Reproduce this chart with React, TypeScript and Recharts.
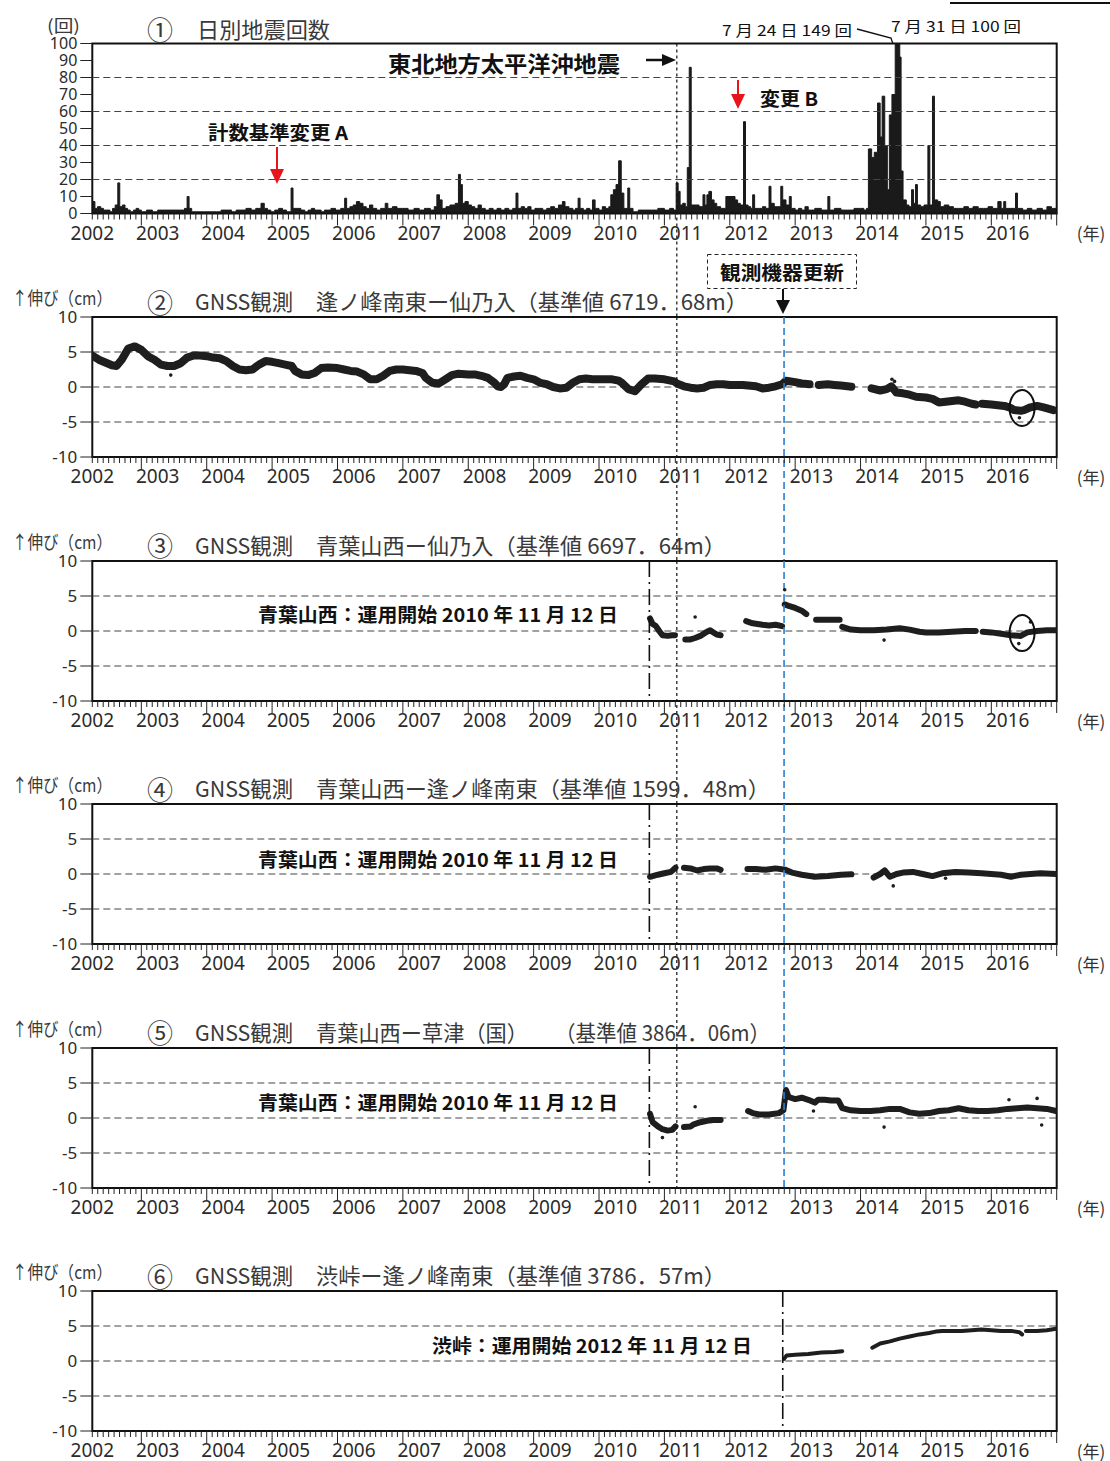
import React from 'react';
import {
  ComposedChart, Area, Line, Scatter, XAxis, YAxis,
  ReferenceLine, ReferenceArea, ReferenceDot,
} from 'recharts';

const FONT = '"Noto Sans CJK JP", "Noto Sans", sans-serif';
const NUM_FONT = '"Noto Sans", "Liberation Sans", sans-serif';

// axis
const yearLabels = ['2002', '2003', '2004', '2005', '2006', '2007', '2008', '2009',
  '2010', '2011', '2012', '2013', '2014', '2015', '2016'];
const X_START = 2002.25; // April 2002
const X_END = 2017;
const quakeTicks = [0, 10, 20, 30, 40, 50, 60, 70, 80, 90, 100];
const quakeGrid = [20, 40, 60, 80];
const gnssTicks = [-10, -5, 0, 5, 10];
const gnssGrid = [-5, 0, 5];

// events
const QUAKE_DATE = 2011.19; // 2011-03-11
const EQUIP_DATE = 2012.83; // 観測機器更新
const AOBA_START = 2010.77; // 青葉山西 運用開始
const SHIBU_START = 2012.81; // 渋峠 運用開始

// ① daily earthquake counts [year, count]
const quakeCounts: [number, number][] = [
  [2002.25, 7], [2002.29, 3], [2002.33, 4], [2002.38, 3], [2002.42, 2], [2002.47, 2], [2002.52, 1],
  [2002.56, 3], [2002.6, 5], [2002.64, 18], [2002.67, 4], [2002.71, 5], [2002.75, 3], [2002.79, 2],
  [2002.83, 1], [2002.88, 2], [2002.92, 3], [2002.96, 2], [2003.0, 1], [2003.08, 2], [2003.17, 1],
  [2003.25, 2], [2003.33, 2], [2003.42, 2], [2003.5, 2], [2003.58, 2], [2003.66, 3], [2003.7, 10],
  [2003.73, 3], [2003.77, 1], [2003.85, 1], [2003.95, 1], [2004.05, 1], [2004.15, 1], [2004.22, 2],
  [2004.3, 2], [2004.38, 1], [2004.45, 2], [2004.52, 2], [2004.6, 3], [2004.68, 2], [2004.75, 3],
  [2004.83, 6], [2004.88, 3], [2004.93, 2], [2004.98, 1], [2005.04, 2], [2005.1, 3], [2005.16, 2],
  [2005.22, 1], [2005.29, 15], [2005.32, 3], [2005.38, 3], [2005.44, 2], [2005.5, 1], [2005.55, 2],
  [2005.6, 3], [2005.65, 2], [2005.7, 2], [2005.75, 1], [2005.8, 2], [2005.85, 2], [2005.9, 3],
  [2005.97, 2], [2006.05, 3], [2006.11, 9], [2006.14, 3], [2006.19, 4], [2006.24, 5], [2006.29, 7],
  [2006.34, 6], [2006.39, 4], [2006.44, 3], [2006.49, 5], [2006.54, 3], [2006.6, 2], [2006.66, 3],
  [2006.73, 6], [2006.77, 3], [2006.84, 4], [2006.91, 3], [2007.0, 3], [2007.08, 2], [2007.17, 3],
  [2007.25, 2], [2007.33, 3], [2007.42, 2], [2007.48, 4], [2007.52, 11], [2007.56, 8], [2007.6, 3],
  [2007.66, 4], [2007.72, 5], [2007.8, 6], [2007.85, 23], [2007.88, 17], [2007.91, 6], [2007.95, 7],
  [2008.0, 5], [2008.05, 4], [2008.1, 3], [2008.15, 5], [2008.2, 3], [2008.26, 2], [2008.32, 3],
  [2008.38, 2], [2008.44, 3], [2008.5, 2], [2008.56, 3], [2008.62, 2], [2008.68, 3], [2008.73, 12],
  [2008.76, 3], [2008.81, 4], [2008.86, 3], [2008.91, 4], [2008.96, 2], [2009.02, 3], [2009.08, 3],
  [2009.14, 2], [2009.2, 3], [2009.26, 4], [2009.32, 3], [2009.38, 5], [2009.44, 7], [2009.48, 4],
  [2009.54, 3], [2009.6, 2], [2009.64, 3], [2009.68, 9], [2009.71, 3], [2009.76, 2], [2009.81, 3],
  [2009.86, 2], [2009.9, 8], [2009.94, 3], [2010.0, 2], [2010.05, 4], [2010.1, 3], [2010.15, 4],
  [2010.18, 11], [2010.22, 14], [2010.26, 17], [2010.3, 31], [2010.34, 12], [2010.38, 3], [2010.44, 15],
  [2010.47, 3], [2010.52, 1], [2010.6, 2], [2010.7, 2], [2010.8, 2], [2010.9, 3], [2011.0, 2],
  [2011.08, 3], [2011.14, 2], [2011.18, 18], [2011.21, 13], [2011.24, 5], [2011.28, 6], [2011.32, 4],
  [2011.35, 27], [2011.38, 86], [2011.41, 5], [2011.47, 5], [2011.53, 4], [2011.59, 11], [2011.62, 5],
  [2011.65, 11], [2011.68, 13], [2011.72, 8], [2011.76, 6], [2011.8, 4], [2011.86, 3], [2011.94, 10],
  [2012.02, 10], [2012.08, 8], [2012.12, 6], [2012.16, 5], [2012.21, 54], [2012.24, 5], [2012.28, 4],
  [2012.32, 3], [2012.35, 11], [2012.38, 3], [2012.45, 3], [2012.5, 4], [2012.55, 3], [2012.6, 16],
  [2012.63, 6], [2012.68, 4], [2012.73, 4], [2012.78, 16], [2012.81, 8], [2012.86, 5], [2012.91, 10],
  [2012.94, 3], [2013.0, 2], [2013.05, 3], [2013.1, 2], [2013.15, 4], [2013.2, 2], [2013.3, 3],
  [2013.4, 2], [2013.5, 10], [2013.53, 2], [2013.6, 3], [2013.7, 2], [2013.8, 2], [2013.9, 3],
  [2014.0, 3], [2014.05, 2], [2014.09, 3], [2014.12, 38], [2014.17, 33], [2014.21, 36], [2014.26, 65],
  [2014.3, 45], [2014.33, 69], [2014.37, 40], [2014.41, 14], [2014.44, 58], [2014.48, 70],
  [2014.53, 149], [2014.58, 100], [2014.6, 92], [2014.62, 25], [2014.65, 8], [2014.7, 5], [2014.74, 4],
  [2014.78, 14], [2014.81, 6], [2014.84, 17], [2014.87, 5], [2014.92, 4], [2014.97, 5], [2015.03, 40],
  [2015.06, 5], [2015.1, 69], [2015.13, 8], [2015.18, 7], [2015.22, 4], [2015.28, 5], [2015.35, 4],
  [2015.42, 3], [2015.5, 3], [2015.58, 4], [2015.65, 3], [2015.72, 4], [2015.8, 3], [2015.88, 3],
  [2015.95, 4], [2016.02, 3], [2016.1, 7], [2016.15, 3], [2016.19, 7], [2016.22, 3], [2016.3, 3],
  [2016.37, 12], [2016.4, 3], [2016.48, 2], [2016.55, 3], [2016.62, 2], [2016.7, 3], [2016.78, 2],
  [2016.85, 4], [2016.92, 3], [2017.0, 3],
];

// ② 逢ノ峰南東－仙乃入 (cm)
const p2Values: [number, number | null][] = [
  [2002.25, 4.5], [2002.35, 3.9], [2002.45, 3.5], [2002.55, 3.1], [2002.62, 3.0], [2002.7, 3.9],
  [2002.8, 5.5], [2002.9, 5.8], [2003.0, 5.3], [2003.1, 4.4], [2003.2, 3.9], [2003.3, 3.2],
  [2003.4, 3.0], [2003.5, 3.0], [2003.6, 3.4], [2003.7, 4.2], [2003.8, 4.5], [2003.9, 4.5],
  [2004.0, 4.4], [2004.1, 4.2], [2004.2, 4.1], [2004.3, 3.7], [2004.4, 3.0], [2004.5, 2.5],
  [2004.6, 2.4], [2004.7, 2.5], [2004.8, 3.2], [2004.9, 3.7], [2005.0, 3.6], [2005.1, 3.4],
  [2005.2, 3.2], [2005.3, 3.0], [2005.35, 2.3], [2005.45, 1.8], [2005.55, 1.7], [2005.65, 2.0],
  [2005.75, 2.7], [2005.85, 2.8], [2006.0, 2.7], [2006.1, 2.5], [2006.2, 2.3], [2006.3, 2.2],
  [2006.4, 1.8], [2006.5, 1.1], [2006.6, 1.1], [2006.7, 1.6], [2006.8, 2.3], [2006.9, 2.5],
  [2007.0, 2.5], [2007.1, 2.4], [2007.2, 2.3], [2007.3, 2.0], [2007.35, 1.3], [2007.45, 0.6],
  [2007.55, 0.5], [2007.65, 1.1], [2007.75, 1.7], [2007.85, 1.9], [2008.0, 1.8], [2008.1, 1.8],
  [2008.2, 1.6], [2008.3, 1.3], [2008.4, 0.6], [2008.45, 0.1], [2008.5, 0.0], [2008.55, 0.4],
  [2008.6, 1.3], [2008.7, 1.5], [2008.8, 1.6], [2008.9, 1.3], [2009.0, 1.1], [2009.1, 0.6],
  [2009.2, 0.4], [2009.3, 0.0], [2009.4, -0.2], [2009.5, -0.1], [2009.6, 0.6], [2009.7, 1.1],
  [2009.8, 1.2], [2009.9, 1.1], [2010.0, 1.1], [2010.1, 1.1], [2010.2, 1.1], [2010.3, 0.9],
  [2010.35, 0.6], [2010.45, -0.3], [2010.55, -0.6], [2010.65, 0.4], [2010.75, 1.2], [2010.85, 1.2],
  [2011.0, 1.1], [2011.15, 0.8], [2011.19, 0.5], [2011.3, 0.1], [2011.4, -0.1], [2011.5, -0.2],
  [2011.6, -0.1], [2011.7, 0.3], [2011.8, 0.4], [2011.9, 0.4], [2012.0, 0.3], [2012.2, 0.3],
  [2012.4, 0.1], [2012.5, -0.2], [2012.6, -0.1], [2012.7, 0.1], [2012.8, 0.4], [2012.86, 0.9],
  [2013.0, 0.7], [2013.1, 0.5], [2013.22, 0.4], [2013.28, null], [2013.36, 0.3], [2013.5, 0.4],
  [2013.6, 0.3], [2013.7, 0.2], [2013.8, 0.1], [2013.86, 0.05], [2014.0, null], [2014.17, -0.2],
  [2014.3, -0.5], [2014.4, -0.3], [2014.47, 0.1], [2014.55, -0.8], [2014.65, -0.9], [2014.75, -1.1],
  [2014.85, -1.4], [2015.0, -1.5], [2015.1, -1.7], [2015.2, -2.2], [2015.3, -2.1], [2015.4, -2.0],
  [2015.5, -1.9], [2015.6, -2.1], [2015.7, -2.4], [2015.76, -2.5], [2015.8, null], [2015.86, -2.4],
  [2016.0, -2.5], [2016.1, -2.6], [2016.2, -2.7], [2016.3, -3.0], [2016.35, -3.3], [2016.45, -3.4],
  [2016.5, -3.3], [2016.6, -2.9], [2016.7, -2.7], [2016.8, -2.9], [2016.95, -3.3],
];
const p2Outliers: [number, number][] = [[2003.45, 1.7], [2014.48, 1.1], [2014.52, 0.8], [2016.43, -4.4]];

// ③ 青葉山西－仙乃入
const p3Values: [number, number | null][] = [
  [2010.78, 1.8], [2010.82, 1.0], [2010.87, 0.7], [2010.92, 0.0], [2010.97, -0.6], [2011.05, -0.7],
  [2011.12, -0.6], [2011.16, -0.6], [2011.24, null], [2011.32, -1.2], [2011.4, -1.2], [2011.47, -1.0],
  [2011.55, -0.7], [2011.65, -0.1], [2011.7, 0.1], [2011.75, -0.2], [2011.8, -0.5], [2011.86, -0.6],
  [2012.0, null], [2012.25, 1.4], [2012.35, 1.1], [2012.5, 0.9], [2012.6, 0.8], [2012.7, 0.9],
  [2012.8, 0.7], [2012.82, null], [2012.84, 3.8], [2012.9, 3.6], [2013.0, 3.3], [2013.1, 2.9],
  [2013.17, 2.4], [2013.24, null], [2013.32, 1.6], [2013.5, 1.6], [2013.6, 1.6], [2013.68, 1.6],
  [2013.7, null], [2013.72, 0.6], [2013.85, 0.2], [2014.0, 0.1], [2014.2, 0.1], [2014.4, 0.2],
  [2014.6, 0.4], [2014.75, 0.2], [2014.9, -0.1], [2015.0, -0.2], [2015.2, -0.2], [2015.4, -0.1],
  [2015.6, 0.0], [2015.76, 0.0], [2015.8, null], [2015.87, -0.1], [2016.0, -0.2], [2016.15, -0.4],
  [2016.3, -0.6], [2016.45, -0.7], [2016.55, -0.2], [2016.7, 0.0], [2016.85, 0.1], [2016.99, 0.1],
];
const p3Outliers: [number, number][] = [[2011.47, 2.0], [2012.84, 5.9], [2014.36, -1.3], [2016.6, 1.3], [2016.42, -1.8]];

// ④ 青葉山西－逢ノ峰南東
const p4Values: [number, number | null][] = [
  [2010.78, -0.4], [2010.9, -0.1], [2011.0, 0.1], [2011.1, 0.3], [2011.17, 0.9], [2011.24, null],
  [2011.3, 0.9], [2011.4, 0.8], [2011.5, 0.5], [2011.6, 0.7], [2011.7, 0.8], [2011.8, 0.8],
  [2011.86, 0.6], [2012.0, null], [2012.27, 0.7], [2012.4, 0.7], [2012.55, 0.6], [2012.7, 0.8],
  [2012.85, 0.6], [2012.95, 0.2], [2013.1, -0.1], [2013.3, -0.4], [2013.5, -0.3], [2013.7, -0.1],
  [2013.86, -0.05], [2014.0, null], [2014.2, -0.5], [2014.3, 0.0], [2014.37, 0.5], [2014.45, -0.4],
  [2014.55, 0.0], [2014.65, 0.2], [2014.8, 0.3], [2014.95, 0.0], [2015.1, -0.3], [2015.25, 0.1],
  [2015.45, 0.3], [2015.65, 0.2], [2015.85, 0.1], [2016.0, 0.0], [2016.15, -0.1], [2016.3, -0.4],
  [2016.45, -0.1], [2016.6, 0.0], [2016.75, 0.1], [2016.99, 0.0],
];
const p4Outliers: [number, number][] = [[2014.5, -1.7], [2015.3, -0.6]];

// ⑤ 青葉山西－草津（国）
const p5Values: [number, number | null][] = [
  [2010.78, 0.6], [2010.82, -0.6], [2010.9, -1.2], [2010.97, -1.6], [2011.05, -1.8], [2011.12, -1.7],
  [2011.17, -1.2], [2011.24, null], [2011.3, -1.3], [2011.4, -1.2], [2011.45, -0.9], [2011.55, -0.6],
  [2011.65, -0.4], [2011.75, -0.3], [2011.86, -0.3], [2012.0, null], [2012.28, 1.0], [2012.35, 0.7],
  [2012.45, 0.5], [2012.6, 0.5], [2012.75, 0.7], [2012.82, 1.1], [2012.86, 4.0], [2012.9, 3.0],
  [2013.0, 2.7], [2013.1, 2.9], [2013.2, 2.6], [2013.3, 2.2], [2013.35, 2.6], [2013.45, 2.6],
  [2013.55, 2.5], [2013.66, 2.5], [2013.72, 1.4], [2013.85, 1.1], [2014.0, 1.0], [2014.15, 1.0],
  [2014.3, 1.1], [2014.45, 1.3], [2014.6, 1.3], [2014.75, 0.8], [2014.9, 0.6], [2015.05, 0.7],
  [2015.2, 1.0], [2015.35, 1.1], [2015.5, 1.4], [2015.65, 1.1], [2015.8, 1.0], [2015.95, 1.0],
  [2016.1, 1.1], [2016.25, 1.3], [2016.4, 1.4], [2016.55, 1.5], [2016.7, 1.4], [2016.85, 1.3],
  [2016.99, 1.0],
];
const p5Outliers: [number, number][] = [[2011.47, 1.6], [2010.97, -2.8], [2014.36, -1.3], [2016.27, 2.6], [2016.7, 2.8], [2016.77, -1.0], [2013.28, 1.0]];

// ⑥ 渋峠－逢ノ峰南東
const p6Values: [number, number | null][] = [
  [2012.83, 0.3], [2012.87, 0.8], [2013.0, 0.9], [2013.2, 1.0], [2013.4, 1.2], [2013.6, 1.3],
  [2013.72, 1.4], [2013.9, null], [2014.18, 1.9], [2014.3, 2.5], [2014.45, 2.8], [2014.6, 3.2],
  [2014.75, 3.5], [2014.9, 3.8], [2015.05, 4.0], [2015.15, 4.2], [2015.25, 4.3], [2015.4, 4.3],
  [2015.55, 4.3], [2015.7, 4.4], [2015.85, 4.5], [2016.0, 4.4], [2016.15, 4.3], [2016.3, 4.3],
  [2016.43, 4.1], [2016.47, 3.8], [2016.5, null], [2016.53, 4.3], [2016.7, 4.3], [2016.85, 4.4],
  [2016.99, 4.6],
];

const toPts = (arr: [number, number | null][]) => arr.map(([t, v]) => ({ t, v }));

const monthTicks: number[] = [];
yearLabels.forEach((_, i) => {
  for (let m = 0; m < 12; m++) {
    const t = 2002 + i + m / 12;
    if (t >= X_START - 1e-6) monthTicks.push(t);
  }
});
monthTicks.push(X_END);

const PLOT_LEFT = 92.3;
const RIGHT_MARGIN = 1110 - 1056.7;
const PLOT_TOPS = [317, 560.5, 804, 1047.5, 1291];
const GNSS_H = 140;
const PX_PER_CM = GNSS_H / 20;

function MonthTick(props: any) {
  const { x, y, payload } = props;
  const v: number = payload.value;
  const yr = Math.floor(v + 1e-6);
  const m = Math.round((v - yr) * 12);
  return (
    <g>
      <line x1={x} x2={x} y1={y} y2={y + (m === 0 ? 12 : 6)} stroke="#222" strokeWidth={1} />
      {m === 3 && (
        <text x={x} y={y + 19} textAnchor="middle" dominantBaseline="central"
          fontSize={19} fontFamily={NUM_FONT} fill="#2b2b2b">
          {yearLabels[yr - 2002]}
        </text>
      )}
      {v > X_END - 1e-6 && (
        <text x={x + 20} y={y + 19} dominantBaseline="central" fontSize={17} fontFamily={FONT} fill="#333">
          (年)
        </text>
      )}
    </g>
  );
}

function xAxis() {
  return (
    <XAxis type="number" dataKey="t" domain={[X_START, X_END]} ticks={monthTicks} interval={0}
      allowDataOverflow tick={(p: any) => <MonthTick {...p} />} tickLine={false} axisLine={false}
      tickSize={0} tickMargin={0} height={30} />
  );
}

function vLine(x: number, top: number, bottom: number, kind: 'quake' | 'equip' | 'start') {
  const style = kind === 'quake'
    ? { stroke: '#111', strokeDasharray: '3 3', strokeWidth: 1.2 }
    : kind === 'equip'
      ? { stroke: '#2a7fcf', strokeDasharray: '7 4', strokeWidth: 1.6 }
      : { stroke: '#111', strokeDasharray: '16 5 2 5', strokeWidth: 1.6 };
  return (
    <ReferenceLine key={kind + x} segment={[{ x, y: top }, { x, y: bottom }]} ifOverflow="visible" {...style} />
  );
}

function QuakeChart() {
  const plotTop = 43.5;
  const plotH = 170;
  const height = PLOT_TOPS[0];
  const gapUnits = (height - plotTop - plotH) / (plotH / 100);
  return (
    <div style={{ position: 'absolute', left: 0, top: 0 }}>
      <ComposedChart width={1110} height={height} data={quakeCounts.map(([t, c]) => ({ t, c }))}
        margin={{ top: plotTop, right: RIGHT_MARGIN, left: 0, bottom: height - plotTop - plotH - 30 }}>
        {xAxis()}
        <YAxis type="number" domain={[0, 100]} ticks={quakeTicks} interval={0} allowDataOverflow
          width={PLOT_LEFT} tickSize={12} tickMargin={3} axisLine={false}
          tickLine={{ stroke: '#222' }} tick={{ fontSize: 16, fill: '#2b2b2b', fontFamily: NUM_FONT }} />
        {quakeGrid.map((g) => (
          <ReferenceLine key={g} y={g} stroke="#444" strokeDasharray="7 4" strokeWidth={1} />
        ))}
        <Area type="stepAfter" dataKey="c" stroke="#1a1a1a" strokeWidth={1} fill="#1a1a1a" fillOpacity={1}
          isAnimationActive={false} dot={false} activeDot={false} />
        <ReferenceArea x1={X_START} x2={X_END} y1={0} y2={100} fill="none" fillOpacity={0}
          stroke="#111" strokeWidth={2} ifOverflow="visible" />
        {vLine(QUAKE_DATE, 100, -gapUnits, 'quake')}
      </ComposedChart>
    </div>
  );
}

type PanelCfg = {
  values: [number, number | null][];
  outliers: [number, number][];
  lineWidth: number;
  ellipse?: [number, number];
  start?: number;
  cross: 'extend' | 'inside' | 'none';
};

const panelCfgs: PanelCfg[] = [
  { values: p2Values, outliers: p2Outliers, lineWidth: 8, ellipse: [2016.47, -3.0], cross: 'extend' },
  { values: p3Values, outliers: p3Outliers, lineWidth: 6, ellipse: [2016.47, -0.3], start: AOBA_START, cross: 'extend' },
  { values: p4Values, outliers: p4Outliers, lineWidth: 6, start: AOBA_START, cross: 'extend' },
  { values: p5Values, outliers: p5Outliers, lineWidth: 6, start: AOBA_START, cross: 'inside' },
  { values: p6Values, outliers: [], lineWidth: 4, start: SHIBU_START, cross: 'none' },
];

function GnssChart({ cfg, index }: { cfg: PanelCfg; index: number }) {
  const plotTop = PLOT_TOPS[index];
  const chartTop = plotTop - 40;
  const nextTop = PLOT_TOPS[index + 1];
  const height = nextTop ? nextTop - chartTop : 40 + GNSS_H + 30;
  const bottomVal = cfg.cross === 'extend' && nextTop
    ? -10 - (nextTop - plotTop - GNSS_H) / PX_PER_CM
    : -10;
  return (
    <div style={{ position: 'absolute', left: 0, top: chartTop }}>
      <ComposedChart width={1110} height={height} data={toPts(cfg.values)}
        margin={{ top: 40, right: RIGHT_MARGIN, left: 0, bottom: height - 40 - GNSS_H - 30 }}>
        {xAxis()}
        <YAxis type="number" dataKey="v" domain={[-10, 10]} ticks={gnssTicks} interval={0} allowDataOverflow
          width={PLOT_LEFT} tickSize={12} tickMargin={3} axisLine={false}
          tickLine={{ stroke: '#222' }} tick={{ fontSize: 17, fill: '#2b2b2b', fontFamily: NUM_FONT }} />
        {gnssGrid.map((g) => (
          <ReferenceLine key={g} y={g} stroke="#444" strokeDasharray="7 4" strokeWidth={1} />
        ))}
        <Line type="linear" dataKey="v" stroke="#1e1e1e" strokeWidth={cfg.lineWidth} dot={false}
          activeDot={false} connectNulls={false} isAnimationActive={false}
          strokeLinejoin="round" strokeLinecap="round" />
        {cfg.outliers.length > 0 && (
          <Scatter data={toPts(cfg.outliers)} dataKey="v" isAnimationActive={false}
            shape={(p: any) => <circle cx={p.cx} cy={p.cy} r={1.8} fill="#1e1e1e" />} />
        )}
        <ReferenceArea x1={X_START} x2={X_END} y1={-10} y2={10} fill="none" fillOpacity={0}
          stroke="#111" strokeWidth={2} ifOverflow="visible" />
        {cfg.start !== undefined && vLine(cfg.start, 10, -10, 'start')}
        {cfg.cross !== 'none' && vLine(QUAKE_DATE, 10, bottomVal, 'quake')}
        {cfg.cross !== 'none' && vLine(EQUIP_DATE, 10, bottomVal, 'equip')}
        {cfg.ellipse && (
          <ReferenceDot x={cfg.ellipse[0]} y={cfg.ellipse[1]} r={12}
            shape={(p: any) => (
              <ellipse cx={p.cx} cy={p.cy} rx={12.5} ry={18} fill="none" stroke="#111" strokeWidth={2} />
            )} />
        )}
      </ComposedChart>
    </div>
  );
}

function T(p: { x: number; y: number; s: number; len?: number; bold?: boolean; fill?: string;
  anchor?: 'start' | 'middle' | 'end'; children: React.ReactNode }) {
  return (
    <text x={p.x} y={p.y} fontSize={p.s} fontFamily={FONT} fontWeight={p.bold ? 700 : 400}
      fill={p.fill ?? '#111'} dominantBaseline="central" textAnchor={p.anchor ?? 'start'}
      textLength={p.len} lengthAdjust={p.len ? 'spacingAndGlyphs' : undefined}>
      {p.children}
    </text>
  );
}

const titleNums = ['②', '③', '④', '⑤', '⑥'];
const titleRoutes: [string, number][][] = [
  [['逢ノ峰南東ー仙乃入（基準値 6719．68m）', 432]],
  [['青葉山西ー仙乃入（基準値 6697．64m）', 410]],
  [['青葉山西ー逢ノ峰南東（基準値 1599．48m）', 454]],
  [['青葉山西ー草津（国）', 212], ['（基準値 3864．06m）', 215]],
  [['渋峠ー逢ノ峰南東（基準値 3786．57m）', 410]],
];
const startLabels: ([string, number, number, number] | null)[] = [
  null,
  ['青葉山西：運用開始 2010 年 11 月 12 日', 258, 360, 53],
  ['青葉山西：運用開始 2010 年 11 月 12 日', 258, 360, 54],
  ['青葉山西：運用開始 2010 年 11 月 12 日', 258, 360, 53.5],
  ['渋峠：運用開始 2012 年 11 月 12 日', 432, 320, 53],
];

function Overlay() {
  const gray = '#3a3a3a';
  return (
    <svg width={1110} height={1461} style={{ position: 'absolute', left: 0, top: 0, pointerEvents: 'none' }}>
      <line x1={950} y1={3} x2={1110} y2={3} stroke="#111" strokeWidth={2} />
      <T x={47} y={24} s={17} len={33} fill={gray}>(回)</T>
      <T x={147} y={28} s={26} fill={gray}>①</T>
      <T x={197} y={28} s={22} len={133} fill={gray}>日別地震回数</T>

      <T x={388} y={62} s={22} bold len={232}>東北地方太平洋沖地震</T>
      <line x1={646} y1={60} x2={664} y2={60} stroke="#111" strokeWidth={2.5} />
      <polygon points="662,54 676,60 662,66" fill="#111" />

      <T x={208} y={131} s={19} bold len={140}>計数基準変更 A</T>
      <line x1={277} y1={147} x2={277} y2={171} stroke="#e8141c" strokeWidth={2} />
      <polygon points="270,169 284,169 277,184" fill="#e8141c" />

      <T x={760} y={97} s={19} bold len={58}>変更 B</T>
      <line x1={738} y1={80} x2={738} y2={96} stroke="#e8141c" strokeWidth={2} />
      <polygon points="731,94 745,94 738,109" fill="#e8141c" />

      <T x={722} y={29} s={15} len={130}>7 月 24 日 149 回</T>
      <T x={891} y={25} s={15} len={130}>7 月 31 日 100 回</T>
      <polyline points="857,29 891,38 893,44" fill="none" stroke="#111" strokeWidth={1.3} />

      <rect x={707.5} y={254.5} width={149} height={34} fill="none" stroke="#222" strokeWidth={1}
        strokeDasharray="4 3" />
      <T x={782} y={271} s={19} bold anchor="middle" len={124}>観測機器更新</T>
      <line x1={783} y1={289} x2={783} y2={302} stroke="#111" strokeWidth={2} />
      <polygon points="776,300 790,300 783,314" fill="#111" />

      {PLOT_TOPS.map((top, i) => (
        <g key={i}>
          <T x={12} y={top - 20} s={18} len={100} fill={gray}>↑伸び（cm）</T>
          <T x={147} y={top - 16} s={26} fill={gray}>{titleNums[i]}</T>
          <T x={195} y={top - 17} s={22} len={98} fill={gray}>GNSS観測</T>
          {titleRoutes[i].map(([txt, len], j) => (
            <T key={j} x={j === 0 ? 316 : 555} y={top - 17} s={22} len={len} fill={gray}>{txt}</T>
          ))}
          {startLabels[i] && (
            <T x={startLabels[i]![1]} y={top + startLabels[i]![3]} s={19} bold len={startLabels[i]![2]}>
              {startLabels[i]![0]}
            </T>
          )}
        </g>
      ))}
    </svg>
  );
}

export default function App() {
  return (
    <div style={{ position: 'relative', width: 1110, height: 1461, overflow: 'hidden', background: '#fff' }}>
      <style>{'body{margin:0}'}</style>
      <QuakeChart />
      {panelCfgs.map((cfg, i) => (
        <GnssChart key={i} cfg={cfg} index={i} />
      ))}
      <Overlay />
    </div>
  );
}
